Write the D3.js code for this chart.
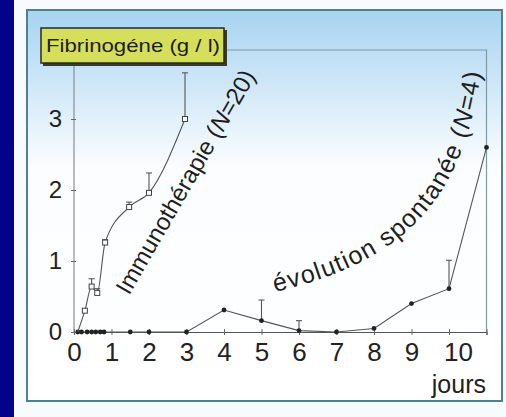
<!DOCTYPE html>
<html>
<head>
<meta charset="utf-8">
<script src="https://cdn.jsdelivr.net/npm/d3@7"></script>
<style>
  body { margin: 0; background: #ffffff; }
  svg { display: block; font-family: "Liberation Sans", Arial, sans-serif; }
</style>
</head>
<body>
<div id="chart"></div>
<script>
// immunothérapie (N=20): jours, fibrinogène, barre d'erreur
const immunoDays = [0.1, 0.29, 0.47, 0.62, 0.83, 1.47, 2.0, 2.96];
const immunoValues = [0, 0.3, 0.64, 0.55, 1.26, 1.76, 1.96, 3.0];
const immunoErrors = [0, 0, 0.11, 0.06, 0.04, 0.07, 0.28, 0.65];

// évolution spontanée (N=4)
const spontDays = [0.1, 0.2, 0.35, 0.47, 0.58, 0.7, 0.8, 1.5, 2, 3, 4, 5, 6, 7, 8, 9, 10, 11];
const spontValues = [0, 0, 0, 0, 0, 0, 0, 0, 0, 0, 0.31, 0.16, 0.02, 0, 0.05, 0.4, 0.61, 2.6];
const spontErrors = [0, 0, 0, 0, 0, 0, 0, 0, 0, 0, 0, 0.29, 0.14, 0, 0, 0, 0.4, 0];

const xTicks = [0, 1, 2, 3, 4, 5, 6, 7, 8, 9, 10, 11];
const xTickLabels = ['0', '1', '2', '3', '4', '5', '6', '7', '8', '9', '10', ''];
const yTicks = [0, 1, 2, 3];

const width = 506, height = 417;

const svg = d3.select('#chart').append('svg')
    .attr('width', width)
    .attr('height', height);

const defs = svg.append('defs');
const grad = defs.append('linearGradient')
    .attr('id', 'bg').attr('x1', 0).attr('y1', 0).attr('x2', 0).attr('y2', 1);
grad.append('stop').attr('offset', '0%').attr('stop-color', '#a7d3f1');
grad.append('stop').attr('offset', '40%').attr('stop-color', '#fbfdff');
grad.append('stop').attr('offset', '100%').attr('stop-color', '#ffffff');

// page background
svg.append('rect').attr('width', width).attr('height', height).attr('fill', '#f7fbfe');
svg.append('rect').attr('width', 14).attr('height', height).attr('fill', '#02028a');

// panel
svg.append('rect')
    .attr('x', 27).attr('y', 10).attr('width', 475).attr('height', 391)
    .attr('fill', 'url(#bg)')
    .attr('stroke', '#4f7f90').attr('stroke-width', 2);

const x = d3.scaleLinear().domain([0, 11]).range([74, 486.5]);
const y = d3.scaleLinear().domain([0, 3]).range([332, 119]);

// frame: y axis line, top and right lines
svg.append('line').attr('x1', 74).attr('x2', 74).attr('y1', 64).attr('y2', y(0))
    .attr('stroke', '#8a8f94').attr('stroke-width', 1.2);
svg.append('polyline')
    .attr('points', `226,50 ${x(11)},50 ${x(11)},${y(0)}`)
    .attr('fill', 'none').attr('stroke', '#7f98a6').attr('stroke-width', 1.2);

// x axis
const xAxis = svg.append('g')
    .attr('transform', `translate(0,${y(0)})`)
    .call(d3.axisBottom(x).tickValues(xTicks)
        .tickFormat((d, i) => xTickLabels[i]).tickSize(3).tickPadding(8));
xAxis.select('.domain').attr('stroke', '#555').attr('stroke-width', 1.2);
xAxis.selectAll('.tick line').attr('y1', -3).attr('stroke', '#666');
xAxis.selectAll('.tick text')
    .attr('font-size', 26).attr('fill', '#222').attr('font-family', '"Liberation Sans", Arial, sans-serif')
    .attr('dx', d => d === 10 ? 9 : 0);

// y axis
const yAxis = svg.append('g')
    .attr('transform', 'translate(74,0)')
    .call(d3.axisLeft(y).tickValues(yTicks).tickFormat(d3.format('d')).tickSize(3).tickPadding(9));
yAxis.select('.domain').remove();
yAxis.selectAll('.tick line').attr('x1', -3).attr('x2', 2).attr('stroke', '#666');
yAxis.selectAll('.tick text')
    .attr('font-size', 24).attr('fill', '#222').attr('font-family', '"Liberation Sans", Arial, sans-serif');

// axis title "jours"
svg.append('text')
    .attr('x', 486).attr('y', 393)
    .attr('text-anchor', 'end')
    .attr('font-size', 25).attr('fill', '#222')
    .text('jours');

// y title box
svg.append('rect').attr('x', 43).attr('y', 30).attr('width', 184).attr('height', 36).attr('fill', '#3a3a2a');
svg.append('rect').attr('x', 41).attr('y', 28).attr('width', 183).attr('height', 35)
    .attr('fill', '#d6df5b').attr('stroke', '#2a2a1e').attr('stroke-width', 1.5);
svg.append('text')
    .attr('x', 46).attr('y', 52)
    .attr('font-size', 19).attr('fill', '#1e1e1e')
    .attr('textLength', 174).attr('lengthAdjust', 'spacingAndGlyphs')
    .text('Fibrinogéne (g / l)');

function drawSeries(days, values, errors, kind, curve) {
    const pts = days.map((d, i) => ({ day: d, value: values[i], err: errors[i] }));
    const line = d3.line()
        .x(d => x(d.day))
        .y(d => y(d.value))
        .curve(curve);
    svg.append('path')
        .datum(pts)
        .attr('fill', 'none')
        .attr('stroke', '#555')
        .attr('stroke-width', 1.1)
        .attr('d', line);

    const bars = pts.filter(d => d.err > 0);
    svg.selectAll(null).data(bars).enter().append('line')
        .attr('x1', d => x(d.day)).attr('x2', d => x(d.day))
        .attr('y1', d => y(d.value)).attr('y2', d => y(d.value + d.err))
        .attr('stroke', '#555').attr('stroke-width', 1.1);
    svg.selectAll(null).data(bars).enter().append('line')
        .attr('x1', d => x(d.day) - 3).attr('x2', d => x(d.day) + 3)
        .attr('y1', d => y(d.value + d.err)).attr('y2', d => y(d.value + d.err))
        .attr('stroke', '#555').attr('stroke-width', 1.1);

    if (kind === 'open') {
        svg.selectAll(null).data(pts.filter(d => d.value > 0)).enter().append('rect')
            .attr('x', d => x(d.day) - 2.5).attr('y', d => y(d.value) - 2.5)
            .attr('width', 5).attr('height', 5)
            .attr('fill', '#fff').attr('stroke', '#444').attr('stroke-width', 1);
    } else {
        svg.selectAll(null).data(pts).enter().append('circle')
            .attr('cx', d => x(d.day)).attr('cy', d => y(d.value))
            .attr('r', 2.4)
            .attr('fill', '#222');
    }
}

drawSeries(spontDays, spontValues, spontErrors, 'filled', d3.curveLinear);
drawSeries(immunoDays, immunoValues, immunoErrors, 'open', d3.curveMonotoneX);

// series labels
const immunoLabel = svg.append('text')
    .attr('transform', 'translate(129,296) rotate(-60)')
    .attr('font-size', 24).attr('fill', '#1e1e1e');
immunoLabel.append('tspan').text('Immunothérapie (');
immunoLabel.append('tspan').attr('font-style', 'italic').text('N');
immunoLabel.append('tspan').text('=20)');

// curved guide for "évolution spontanée"
defs.append('path')
    .attr('id', 'spontPath')
    .attr('d', 'M275,292 C400,262 470,205 484,45');

const spontLabel = svg.append('text')
    .attr('font-size', 25).attr('letter-spacing', 1.3).attr('fill', '#1e1e1e');
const tp = spontLabel.append('textPath').attr('href', '#spontPath');
tp.append('tspan').text('évolution spontanée (');
tp.append('tspan').attr('font-style', 'italic').text('N');
tp.append('tspan').text('=4)');
</script>
</body>
</html>
